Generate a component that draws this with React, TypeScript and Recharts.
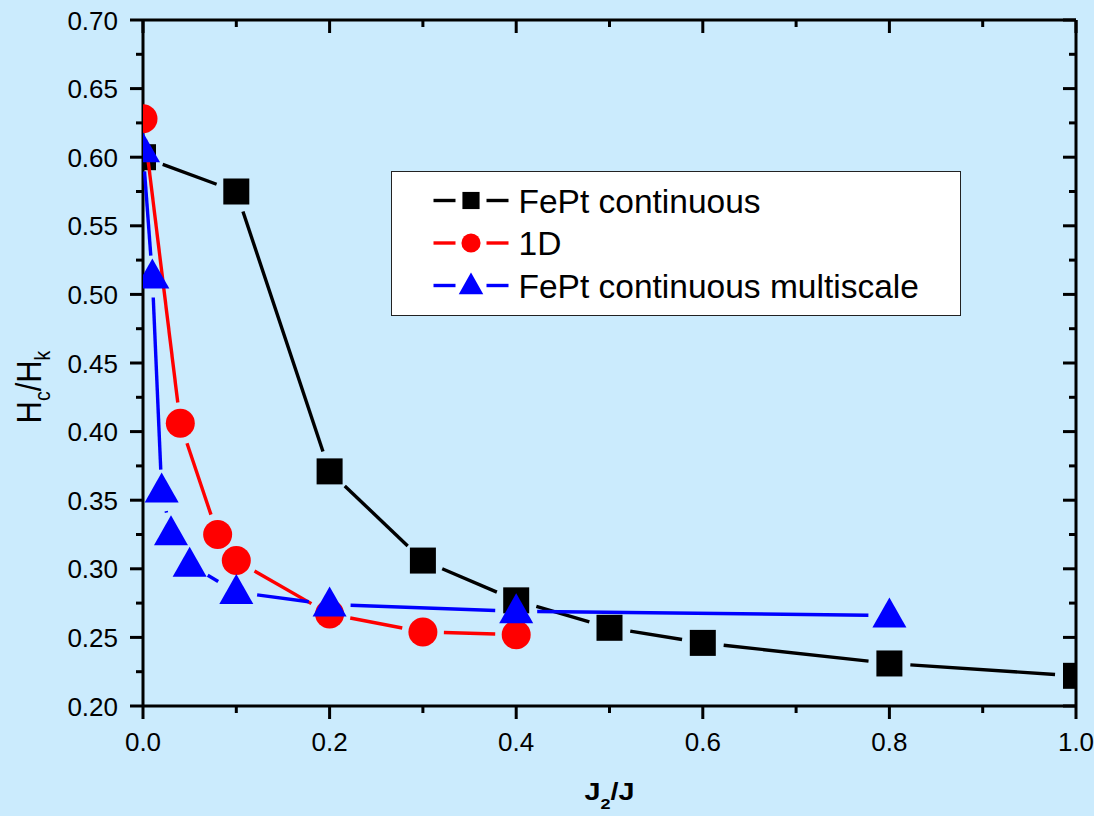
import React from 'react';
import { LineChart, Line, XAxis, YAxis, Legend } from 'recharts';

// ---------- data ----------
const xFePt = [0, 0.1, 0.2, 0.3, 0.4, 0.5, 0.6, 0.8, 1.0];
const yFePt = [0.6, 0.575, 0.371, 0.306, 0.277, 0.257, 0.246, 0.231, 0.222];

const x1D = [0, 0.04, 0.08, 0.1, 0.2, 0.3, 0.4];
const y1D = [0.628, 0.406, 0.325, 0.306, 0.267, 0.254, 0.252];

const xMulti = [0, 0.01, 0.02, 0.03, 0.05, 0.1, 0.2, 0.4, 0.8];
const yMulti = [0.605, 0.513, 0.357, 0.326, 0.303, 0.283, 0.274, 0.269, 0.266];

const xMajorTicks = [0, 0.2, 0.4, 0.6, 0.8, 1.0];
const xTickLabels = ['0.0', '0.2', '0.4', '0.6', '0.8', '1.0'];
const xMinorTicks = [0.1, 0.3, 0.5, 0.7, 0.9];

const yMajorTicks = [0.2, 0.25, 0.3, 0.35, 0.4, 0.45, 0.5, 0.55, 0.6, 0.65, 0.7];
const yTickLabels = ['0.20', '0.25', '0.30', '0.35', '0.40', '0.45', '0.50', '0.55', '0.60', '0.65', '0.70'];
const yMinorTicks = [0.225, 0.275, 0.325, 0.375, 0.425, 0.475, 0.525, 0.575, 0.625, 0.675];

const seriesNames = ['FePt continuous', '1D', 'FePt continuous multiscale'];

// ---------- layout / style ----------
const W = 1094;
const H = 816;
const BG = '#cbebfd';
const FONT = '"Liberation Sans", Arial, Helvetica, sans-serif';
const MARGIN = { top: 10, right: 8, bottom: 10, left: 10 };
const LEFT_AXIS_W = 133;
const RIGHT_AXIS_W = 10;
const TOP_AXIS_H = 10;
const BOTTOM_AXIS_H = 100;
const PLOT = {
  left: MARGIN.left + LEFT_AXIS_W,
  top: MARGIN.top + TOP_AXIS_H,
  right: W - MARGIN.right - RIGHT_AXIS_W,
  bottom: H - MARGIN.bottom - BOTTOM_AXIS_H,
};

const MAJOR_LEN = 13;
const MINOR_LEN = 7;
const TICK_FONT = 26;
const GAP = 21;
const LINE_W = 3.4;

type Pt = { x: number; y: number };
type Shape = 'square' | 'circle' | 'triangle';
type SeriesDef = { key: string; name: string; color: string; shape: Shape; data: { x: number; y: number }[] };

const zip = (xs: number[], ys: number[]) => xs.map((x, i) => ({ x, y: ys[i] }));

const SERIES: SeriesDef[] = [
  { key: 'fept', name: seriesNames[0], color: '#000000', shape: 'square', data: zip(xFePt, yFePt) },
  { key: 'oned', name: seriesNames[1], color: '#ff0000', shape: 'circle', data: zip(x1D, y1D) },
  { key: 'multi', name: seriesNames[2], color: '#0000ff', shape: 'triangle', data: zip(xMulti, yMulti) },
];

const near = (a: number, b: number) => Math.abs(a - b) < 1e-9;

function marker(shape: Shape, cx: number, cy: number, color: string, scale = 1) {
  if (shape === 'square') {
    const h = 13 * scale;
    return <rect x={cx - h} y={cy - h} width={2 * h} height={2 * h} fill={color} />;
  }
  if (shape === 'circle') {
    return <circle cx={cx} cy={cy} r={14.5 * scale} fill={color} />;
  }
  const up = 18 * scale;
  const dn = 12 * scale;
  const hw = 17 * scale;
  return <polygon points={`${cx},${cy - up} ${cx - hw},${cy + dn} ${cx + hw},${cy + dn}`} fill={color} />;
}

function shortened(a: Pt, b: Pt, gap: number) {
  const dx = b.x - a.x;
  const dy = b.y - a.y;
  const len = Math.hypot(dx, dy);
  if (len <= 2 * gap) return null;
  const ux = dx / len;
  const uy = dy / len;
  return { x1: a.x + ux * gap, y1: a.y + uy * gap, x2: b.x - ux * gap, y2: b.y - uy * gap };
}

const lastPts: Record<string, Pt | null> = {};

const makeDot = (s: SeriesDef, first: boolean) => (props: any) => {
  const { cx, cy, index, points } = props;
  const key = `${s.key}-dot-${index}`;
  if (typeof cx !== 'number' || typeof cy !== 'number') return <g key={key} />;
  let prev: Pt | null = null;
  if (index > 0) {
    if (Array.isArray(points) && points[index - 1] && typeof points[index - 1].x === 'number') {
      prev = { x: points[index - 1].x, y: points[index - 1].y };
    } else {
      prev = lastPts[s.key] ?? null;
    }
  }
  lastPts[s.key] = { x: cx, y: cy };
  const seg = prev ? shortened(prev, { x: cx, y: cy }, GAP) : null;
  return (
    <g key={key}>
      {first && index === 0 && (
        <defs>
          <clipPath id="plot-clip-area">
            <rect x={PLOT.left} y={PLOT.top} width={PLOT.right - PLOT.left} height={PLOT.bottom - PLOT.top} />
          </clipPath>
        </defs>
      )}
      <g clipPath="url(#plot-clip-area)">
        {seg && <line {...seg} stroke={s.color} strokeWidth={LINE_W} />}
        {marker(s.shape, cx, cy, s.color)}
      </g>
    </g>
  );
};

// ---------- ticks ----------
const BottomTick = (props: any) => {
  const { x, y, payload } = props;
  const idx = xMajorTicks.findIndex((t) => near(t, payload.value));
  const major = idx >= 0;
  return (
    <g>
      <line x1={x} y1={y} x2={x} y2={y + (major ? MAJOR_LEN : MINOR_LEN)} stroke="#000" strokeWidth={3} />
      {major && (
        <text x={x} y={y + 45} textAnchor="middle" fontSize={TICK_FONT} fontFamily={FONT} fill="#000">
          {xTickLabels[idx]}
        </text>
      )}
    </g>
  );
};

const TopTick = (props: any) => {
  const { x, y, payload } = props;
  const major = xMajorTicks.some((t) => near(t, payload.value));
  return <line x1={x} y1={y} x2={x} y2={y + (major ? MAJOR_LEN : MINOR_LEN)} stroke="#000" strokeWidth={3} />;
};

const LeftTick = (props: any) => {
  const { x, y, payload } = props;
  const idx = yMajorTicks.findIndex((t) => near(t, payload.value));
  const major = idx >= 0;
  return (
    <g>
      <line x1={x} y1={y} x2={x - (major ? MAJOR_LEN : MINOR_LEN)} y2={y} stroke="#000" strokeWidth={3} />
      {major && (
        <text x={x - 25} y={y + 9.5} textAnchor="end" fontSize={TICK_FONT} fontFamily={FONT} fill="#000">
          {yTickLabels[idx]}
        </text>
      )}
    </g>
  );
};

const RightTick = (props: any) => {
  const { x, y, payload } = props;
  const major = yMajorTicks.some((t) => near(t, payload.value));
  return <line x1={x} y1={y} x2={x - (major ? MAJOR_LEN : MINOR_LEN)} y2={y} stroke="#000" strokeWidth={3} />;
};

const allXTicks = [...xMajorTicks, ...xMinorTicks].sort((a, b) => a - b);
const allYTicks = [...yMajorTicks, ...yMinorTicks].sort((a, b) => a - b);

// ---------- labels ----------
const YLabel = () => {
  const cx = 41;
  const cy = 387;
  return (
    <g transform={`translate(${cx},${cy}) rotate(-90)`}>
      <g transform="scale(1.03,1.15)">
        <text x={0} y={0} textAnchor="middle" fontSize={30} fontFamily={FONT} fill="#000">
          <tspan>H</tspan>
          <tspan fontSize={19} dy={8}>c</tspan>
          <tspan dy={-8}>/H</tspan>
          <tspan fontSize={19} dy={8}>k</tspan>
        </text>
      </g>
    </g>
  );
};

const XLabel = () => {
  const cx = (PLOT.left + PLOT.right) / 2;
  const cy = 800;
  return (
    <g transform={`translate(${cx},${cy}) scale(1.2,1)`}>
      <text x={0} y={0} textAnchor="middle" fontSize={24} fontWeight="bold" fontFamily={FONT} fill="#000">
        <tspan>J</tspan>
        <tspan fontSize={15} dy={9}>2</tspan>
        <tspan dy={-9}>/J</tspan>
      </text>
    </g>
  );
};

// ---------- legend ----------
const LEG = { left: 391, top: 171, width: 570, height: 145 };

const LegendBox = () => (
  <div
    style={{
      width: LEG.width,
      height: LEG.height,
      boxSizing: 'border-box',
      border: '1.5px solid #222',
      background: '#ffffff',
    }}
  >
    <svg width={LEG.width - 3} height={LEG.height - 3} style={{ display: 'block' }}>
      {SERIES.map((s, i) => {
        const cy = 28.5 + i * 42.5;
        return (
          <g key={s.key}>
            <line x1={41.5} y1={cy} x2={63.5} y2={cy} stroke={s.color} strokeWidth={LINE_W} />
            <line x1={94.5} y1={cy} x2={116.5} y2={cy} stroke={s.color} strokeWidth={LINE_W} />
            {marker(s.shape, 79, cy, s.color, s.shape === 'triangle' ? 0.72 : 0.66)}
            <text x={126.5} y={cy + 12} fontSize={33.5} fontFamily={FONT} fill="#000">
              {s.name}
            </text>
          </g>
        );
      })}
    </svg>
  </div>
);

export default function App() {
  return (
    <div style={{ position: 'absolute', left: 0, top: 0, width: W, height: H, background: BG }}>
      <LineChart width={W} height={H} margin={MARGIN} style={{ fontFamily: FONT }}>
        <XAxis
          xAxisId="bottom"
          dataKey="x"
          type="number"
          domain={[0, 1]}
          allowDataOverflow
          ticks={allXTicks}
          interval={0}
          height={BOTTOM_AXIS_H}
          tickSize={0}
          tickMargin={0}
          tick={<BottomTick />}
          axisLine={{ stroke: '#000', strokeWidth: 3 }}
          label={{ content: () => <XLabel /> }}
        />
        <XAxis
          xAxisId="top"
          orientation="top"
          dataKey="x"
          type="number"
          domain={[0, 1]}
          allowDataOverflow
          ticks={allXTicks}
          interval={0}
          height={TOP_AXIS_H}
          tickSize={0}
          tickMargin={0}
          tick={<TopTick />}
          axisLine={{ stroke: '#000', strokeWidth: 3 }}
        />
        <YAxis
          yAxisId="left"
          type="number"
          domain={[0.2, 0.7]}
          allowDataOverflow
          ticks={allYTicks}
          interval={0}
          width={LEFT_AXIS_W}
          tickSize={0}
          tickMargin={0}
          tick={<LeftTick />}
          axisLine={{ stroke: '#000', strokeWidth: 3 }}
          label={{ content: () => <YLabel /> }}
        />
        <YAxis
          yAxisId="right"
          orientation="right"
          type="number"
          domain={[0.2, 0.7]}
          allowDataOverflow
          ticks={allYTicks}
          interval={0}
          width={RIGHT_AXIS_W}
          tickSize={0}
          tickMargin={0}
          tick={<RightTick />}
          axisLine={{ stroke: '#000', strokeWidth: 3 }}
        />
        {SERIES.map((s, i) => (
          <Line
            key={s.key}
            xAxisId="bottom"
            yAxisId="left"
            data={s.data}
            dataKey="y"
            name={s.name}
            stroke="none"
            strokeWidth={0}
            dot={makeDot(s, i === 0)}
            activeDot={false}
            isAnimationActive={false}
          />
        ))}
        <Legend
          layout="vertical"
          align="center"
          verticalAlign="middle"
          wrapperStyle={{ left: LEG.left, top: LEG.top, width: LEG.width, height: LEG.height }}
          content={() => <LegendBox />}
        />
      </LineChart>
    </div>
  );
}
